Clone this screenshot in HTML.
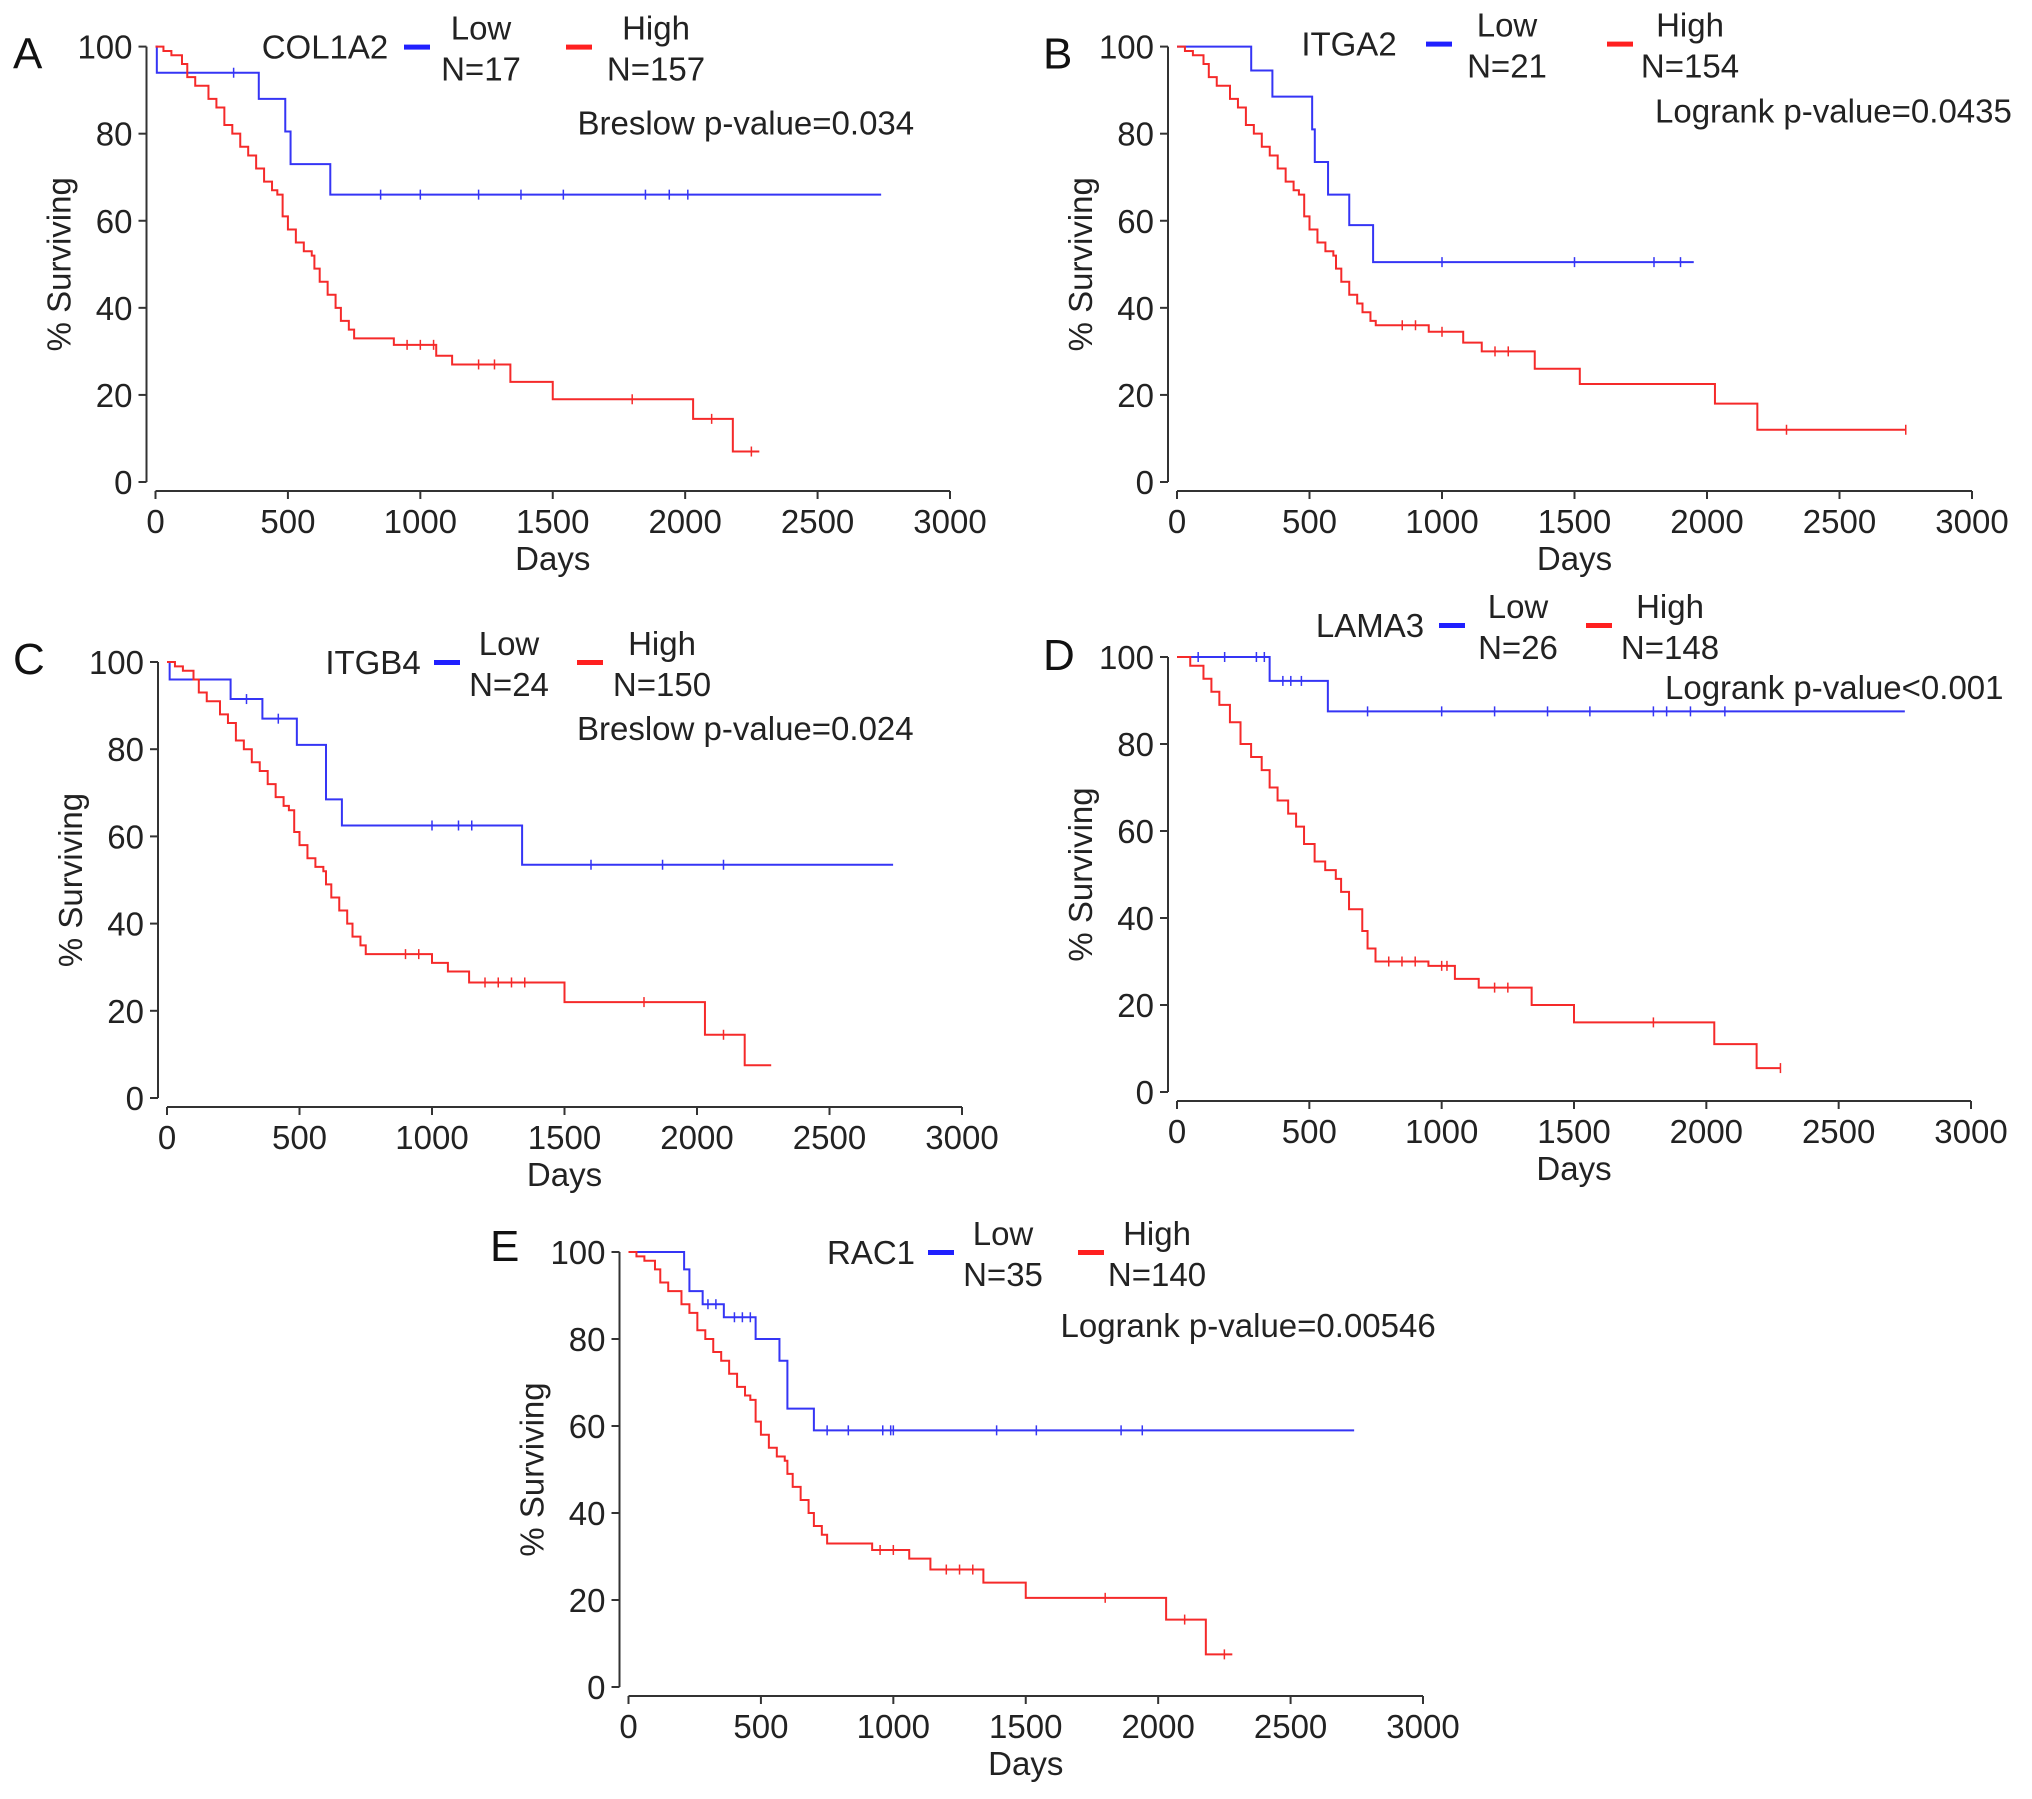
<!DOCTYPE html>
<html><head><meta charset="utf-8"><style>
html,body{margin:0;padding:0;background:#fff;}
svg{display:block;font-family:"Liberation Sans",Arial,sans-serif;}
</style></head><body>
<svg id="fig" width="2032" height="1799" viewBox="0 0 2032 1799" xmlns="http://www.w3.org/2000/svg"></svg>
<script>
// ---- data (days, % surviving after each step) ----
const xTicks = [0,500,1000,1500,2000,2500,3000];
const yTicks = [0,20,40,60,80,100];

const aLowT = [0,5,390,490,510,660], aLowV = [100,94,88,80.5,73,66], aLowEnd = 2740;
const aLowC = [295,850,1000,1220,1380,1540,1850,1940,2010];
const aHighT = [0,30,60,100,120,150,200,230,260,290,320,350,380,410,440,460,480,500,530,560,590,600,620,650,680,700,730,750,900,1060,1120,1340,1500,2030,2180];
const aHighV = [100,99,98,96,93,91,88,86,82,80,77,75,72,69,67,66,61,58,55,53,52,49,46,43,40,37,35,33,31.5,29,27,23,19,14.5,7];
const aHighEnd = 2280, aHighC = [950,1000,1050,1220,1280,1800,2100,2250];

const bLowT = [0,280,360,510,520,570,650,740], bLowV = [100,94.5,88.5,81,73.5,66,59,50.5], bLowEnd = 1950;
const bLowC = [1000,1500,1800,1900];
const bHighT = [0,30,60,100,120,150,200,230,260,290,320,350,380,410,440,460,480,500,530,560,590,600,620,650,680,700,730,750,950,1080,1150,1350,1520,2030,2190];
const bHighV = [100,99,98,96,93,91,88,86,82,80,77,75,72,69,67,66,61,58,55,53,52,49,46,43,41,39,37,36,34.5,32,30,26,22.5,18,12];
const bHighEnd = 2750, bHighC = [850,900,1000,1200,1250,2300,2750];

const cLowT = [0,10,240,360,490,600,660,1340], cLowV = [100,96,91.5,87,81,68.5,62.5,53.5], cLowEnd = 2740;
const cLowC = [300,420,1000,1100,1150,1600,1870,2100];
const cHighT = [0,30,60,100,120,150,200,230,260,290,320,350,380,410,440,460,480,500,530,560,590,600,620,650,680,700,730,750,1000,1060,1140,1500,2030,2180];
const cHighV = [100,99,98,96,93,91,88,86,82,80,77,75,72,69,67,66,61,58,55,53,52,49,46,43,40,37,35,33,31,29,26.5,22,14.5,7.5];
const cHighEnd = 2280, cHighC = [900,950,1200,1250,1300,1350,1800,2100];

const dLowT = [0,350,570], dLowV = [100,94.5,87.5], dLowEnd = 2750;
const dLowC = [80,180,300,330,400,430,470,720,1000,1200,1400,1560,1800,1850,1940,2070];
const dHighT = [0,50,100,130,160,200,240,280,320,350,380,420,450,480,520,560,600,620,650,700,720,750,950,1050,1140,1340,1500,2030,2190];
const dHighV = [100,98,95,92,89,85,80,77,74,70,67,64,61,57,53,51,49,46,42,37,33,30,29,26,24,20,16,11,5.5];
const dHighEnd = 2280, dHighC = [800,850,900,1000,1020,1200,1250,1800,2280];

const eLowT = [0,210,230,280,360,480,570,600,700], eLowV = [100,96,91,88,85,80,75,64,59], eLowEnd = 2740;
const eLowC = [300,330,400,430,460,750,830,960,990,1000,1390,1540,1860,1940];
const eHighT = [0,30,60,100,120,150,200,230,260,290,320,350,380,410,440,460,480,500,530,560,590,600,620,650,680,700,730,750,920,1060,1140,1340,1500,2030,2180];
const eHighV = [100,99,98,96,93,91,88,86,82,80,77,75,72,69,67,66,61,58,55,53,52,49,46,43,40,37,35,33,31.5,29.5,27,24,20.5,15.5,7.5];
const eHighEnd = 2280, eHighC = [950,1000,1200,1250,1300,1800,2100,2250];

const panels = [
 {id:'a',letter:'A',lx:13,lyOff:22,x0:155.5,x1:950,yTop:46.6,yBot:482,gene:'COL1A2',nLow:'N=17',nHigh:'N=157',p:'Breslow p-value=0.034',
  leg:{gx:325,bx:404,lowx:481,rx:566,highx:656,ly:0,px:422,py:88},
  low:[aLowT,aLowV,aLowEnd,aLowC],high:[aHighT,aHighV,aHighEnd,aHighC]},
 {id:'b',letter:'B',lx:1043,lyOff:22,x0:1177,x1:1972,yTop:46.6,yBot:482,gene:'ITGA2',nLow:'N=21',nHigh:'N=154',p:'Logrank p-value=0.0435',
  leg:{gx:1349,bx:1426,lowx:1507,rx:1607,highx:1690,ly:-3,px:478,py:76},
  low:[bLowT,bLowV,bLowEnd,bLowC],high:[bHighT,bHighV,bHighEnd,bHighC]},
 {id:'c',letter:'C',lx:13,lyOff:12,x0:167,x1:962,yTop:662,yBot:1098,gene:'ITGB4',nLow:'N=24',nHigh:'N=150',p:'Breslow p-value=0.024',
  leg:{gx:373,bx:434,lowx:509,rx:577,highx:662,ly:0,px:410,py:78},
  low:[cLowT,cLowV,cLowEnd,cLowC],high:[cHighT,cHighV,cHighEnd,cHighC]},
 {id:'d',letter:'D',lx:1043,lyOff:13,x0:1177,x1:1971,yTop:657,yBot:1092,gene:'LAMA3',nLow:'N=26',nHigh:'N=148',p:'Logrank p-value<0.001',
  leg:{gx:1370,bx:1439,lowx:1518,rx:1586,highx:1670,ly:-32,px:488,py:42},
  low:[dLowT,dLowV,dLowEnd,dLowC],high:[dHighT,dHighV,dHighEnd,dHighC]},
 {id:'e',letter:'E',lx:490,lyOff:9,x0:628.5,x1:1423,yTop:1252,yBot:1687,gene:'RAC1',nLow:'N=35',nHigh:'N=140',p:'Logrank p-value=0.00546',
  leg:{gx:871,bx:928,lowx:1003,rx:1078,highx:1157,ly:0,px:432,py:85},
  low:[eLowT,eLowV,eLowEnd,eLowC],high:[eHighT,eHighV,eHighEnd,eHighC]}
];

const NS='http://www.w3.org/2000/svg';
const svg=document.getElementById('fig');
function mk(tag,attrs,parent){const e=document.createElementNS(NS,tag);for(const k in attrs)e.setAttribute(k,attrs[k]);(parent||svg).appendChild(e);return e;}
function txt(s,attrs,parent){const e=mk('text',attrs,parent);e.textContent=s;return e;}
const FS=33;

panels.forEach(P=>{
  const g=mk('g',{});
  
  
  const xs=d=>P.x0+d*(P.x1-P.x0)/3000;
  const ys=v=>P.yBot-v*(P.yBot-P.yTop)/100;
  const axC='#333';
  const L=txt(P.letter,{x:P.lx,y:P.yTop+P.lyOff,'font-size':44,fill:'#111'},g);
  
  
  const yAx=mk('line',{x1:P.x0-9,x2:P.x0-9,y1:ys(100),y2:ys(0),stroke:axC,'stroke-width':2},g);
  
  
  yTicks.forEach(t=>{
    mk('line',{x1:P.x0-17,x2:P.x0-9,y1:ys(t),y2:ys(t),stroke:axC,'stroke-width':2},g);
    const tl=txt(String(t),{x:P.x0-23,y:ys(t)+12,'font-size':FS,'text-anchor':'end',fill:'#222'},g);
    
    
  });
  const xy=P.yBot+9;
  const xAx=mk('line',{x1:xs(0),x2:xs(3000),y1:xy,y2:xy,stroke:axC,'stroke-width':2},g);
  
  
  xTicks.forEach(t=>{
    mk('line',{x1:xs(t),x2:xs(t),y1:xy,y2:xy+8,stroke:axC,'stroke-width':2},g);
    const tl=txt(String(t),{x:xs(t),y:P.yBot+51,'font-size':FS,'text-anchor':'middle',fill:'#222'},g);
    
    
  });
  const xt=txt('Days',{x:(P.x0+P.x1)/2,y:P.yBot+88,'font-size':FS,'text-anchor':'middle',fill:'#222'},g);
  
  
  const cy=(P.yTop+P.yBot)/2, cx=P.x0-85;
  const yt=txt('% Surviving',{x:cx,y:cy,'font-size':FS,'text-anchor':'middle',fill:'#222',transform:`rotate(-90 ${cx} ${cy})`},g);
  
  
  [['low','#3535f5',P.low],['high','#f52a2a',P.high]].forEach(([nm,col,ser])=>{
    const [T,V,end,C]=ser;
    let d=`M${xs(T[0])},${ys(V[0])}`;
    for(let i=1;i<T.length;i++){d+=` H${xs(T[i])} V${ys(V[i])}`;}
    d+=` H${xs(end)}`;
    const p=mk('path',{d:d,fill:'none',stroke:col,'stroke-width':2},g);
    
    
    const valAt=t=>{let v=V[0];for(let i=0;i<T.length;i++){if(T[i]<=t)v=V[i];}return v;};
    C.forEach(c=>{
      const m=mk('line',{x1:xs(c),x2:xs(c),y1:ys(valAt(c))-5,y2:ys(valAt(c))+5,stroke:col,'stroke-width':1.5},g);
      
      
    });
  });
  const G=P.leg, yR=P.yTop+G.ly;
  const lg=mk('g',{},g);
  
  
  txt(P.gene,{x:G.gx,y:yR+12,'font-size':FS,'text-anchor':'middle',fill:'#222'},lg);
  const bl=mk('rect',{x:G.bx,y:yR-2,width:26,height:5,fill:'#2020ff'},lg);
  
  
  txt('Low',{x:G.lowx,y:yR-7,'font-size':FS,'text-anchor':'middle',fill:'#222'},lg);
  txt(P.nLow,{x:G.lowx,y:yR+34,'font-size':FS,'text-anchor':'middle',fill:'#222'},lg);
  const rl=mk('rect',{x:G.rx,y:yR-2,width:26,height:5,fill:'#ff2020'},lg);
  
  
  txt('High',{x:G.highx,y:yR-7,'font-size':FS,'text-anchor':'middle',fill:'#222'},lg);
  txt(P.nHigh,{x:G.highx,y:yR+34,'font-size':FS,'text-anchor':'middle',fill:'#222'},lg);
  const pv=txt(P.p,{x:P.x0+G.px,y:P.yTop+G.py,'font-size':FS,'text-anchor':'start',fill:'#222'},g);
  
  
});
</script>
</body></html>
